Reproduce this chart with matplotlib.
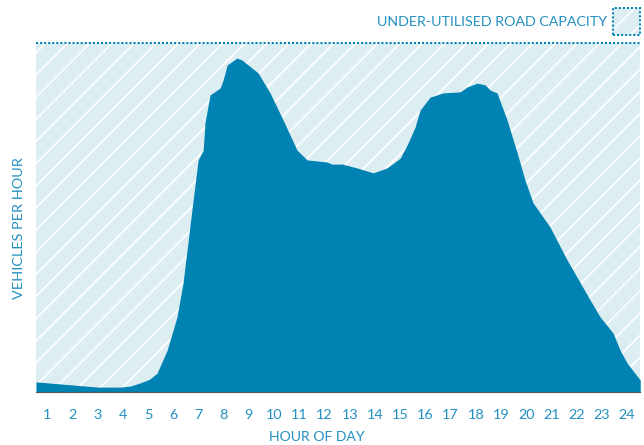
import matplotlib
matplotlib.use("Agg")
import matplotlib.pyplot as plt
from matplotlib.patches import Rectangle

# traffic flow, % of road capacity
hours = [0.56, 2.03, 3.02, 3.89, 4.30, 4.69, 5.05, 5.36, 5.76, 6.15, 6.39, 6.55, 6.79, 6.99,
         7.19, 7.26, 7.46, 7.86, 7.98, 8.14, 8.53, 8.73, 9.37, 9.84, 10.36, 10.91,
         11.31, 12.10, 12.30, 12.70, 13.29, 13.93, 14.48, 15.00, 15.31, 15.59,
         15.79, 16.19, 16.70, 17.38, 17.65, 18.05, 18.37, 18.57, 18.84, 19.24,
         19.64, 19.95, 20.27, 20.94, 21.62, 22.53, 22.93, 23.44, 23.72, 24.00, 24.52]
flow = [2.9, 2.0, 1.4, 1.4, 1.7, 2.6, 3.6, 5.4, 12.0, 21.5, 31.2, 40.7, 55.0, 66.5,
        69.3, 77.1, 85.1, 87.1, 89.4, 93.7, 95.7, 95.1, 91.4, 85.7, 77.9, 69.3,
        66.5, 65.9, 65.3, 65.3, 64.2, 62.8, 64.2, 67.0, 71.3, 75.9,
        80.8, 84.5, 85.7, 86.0, 87.4, 88.5, 88.0, 86.5, 85.7, 77.9,
        68.5, 60.7, 54.2, 47.3, 37.8, 26.4, 21.5, 16.9, 12.0, 8.3, 3.4]
capacity = 100
tick_hours = list(range(1, 25))

fill_col = "#0082b2"
text_col = "#2290c0"
hatch_bg = "#ddeef3"

dpi = 133
plt.rcParams["hatch.linewidth"] = 0.9
plt.rcParams["font.family"] = ["Lato", "DejaVu Sans"]

fig = plt.figure(figsize=(644 / dpi, 445 / dpi), dpi=dpi)
ax = fig.add_axes([36 / 644, 53 / 445, 604 / 644, 349 / 445])

ax.axhspan(0, capacity, facecolor=hatch_bg, edgecolor="white", hatch="//", lw=0)
ax.fill_between(hours, 0, flow, color=fill_col, lw=0, zorder=2)
ax.axhline(capacity, color=fill_col, lw=1.1, ls=(0, (1, 1)), clip_on=False, zorder=3)

ax.set_xlim(0.56, 24.51)
ax.set_ylim(0, capacity)
ax.set_xticks(tick_hours)
ax.set_xticklabels([str(h) for h in tick_hours])
ax.tick_params(axis="x", length=0, pad=9, labelsize=7.8, labelcolor=text_col)
ax.set_yticks([])
for s in ["top", "left", "right"]:
    ax.spines[s].set_visible(False)
ax.spines["bottom"].set_color("#555555")
ax.spines["bottom"].set_linewidth(0.6)
ax.spines["bottom"].set_zorder(4)

fig.text(317 / 644, 1 - 437 / 445, "HOUR OF DAY", color=text_col, fontsize=7.6,
         ha="center", va="center")
fig.text(19 / 644, 1 - 228 / 445, "VEHICLES PER HOUR", color=text_col, fontsize=7.8,
         ha="center", va="center", rotation=90)

# legend
fig.text(607 / 644, 1 - 22 / 445, "UNDER-UTILISED ROAD CAPACITY", color=text_col,
         fontsize=7.7, ha="right", va="center")
box = [613 / 644, 1 - 35 / 445, 27 / 644, 27 / 445]
fig.patches.append(Rectangle((box[0], box[1]), box[2], box[3], transform=fig.transFigure,
                             facecolor=hatch_bg, edgecolor="white", hatch="//", lw=0))
fig.patches.append(Rectangle((box[0], box[1]), box[2], box[3], transform=fig.transFigure,
                             facecolor="none", edgecolor=fill_col, lw=1.1, ls=(0, (1, 1))))

fig.savefig("out.png", dpi=dpi)
